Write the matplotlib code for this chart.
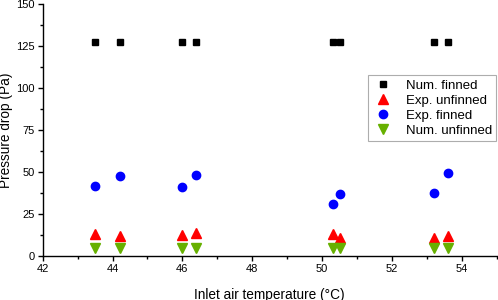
import matplotlib
matplotlib.use("Agg")
import matplotlib.pyplot as plt
from matplotlib.ticker import MultipleLocator

plt.rcParams['font.family'] = ['Liberation Sans', 'DejaVu Sans']

temps = [43.5, 44.2, 46.0, 46.4, 50.3, 50.5, 53.2, 53.6]
num_finned = [127.5, 127.5, 127.5, 127.5, 127.5, 127.5, 127.5, 127.5]
exp_unfinned = [13.0, 12.1, 12.3, 13.5, 13.0, 10.9, 10.9, 12.1]
exp_finned = [41.8, 47.8, 40.9, 48.0, 31.0, 37.1, 37.5, 49.6]
num_unfinned = [5.0, 5.0, 5.0, 5.0, 5.0, 5.0, 5.0, 5.0]

fig = plt.figure(figsize=(4.98, 3.0), dpi=100)
ax = fig.add_axes([0.0857, 0.1467, 0.912, 0.84])

ax.plot(temps, num_finned, 's', color='black', ms=5, label='Num. finned', linestyle='none')
ax.plot(temps, exp_unfinned, '^', color='#ff0000', ms=6.5, label='Exp. unfinned', linestyle='none')
ax.plot(temps, exp_finned, 'o', color='#0000ff', ms=6, label='Exp. finned', linestyle='none')
ax.plot(temps, num_unfinned, 'v', color='#66b000', ms=6.5, label='Num. unfinned', linestyle='none')

ax.set_xlim(42, 55)
ax.set_ylim(0, 150)
ax.xaxis.set_major_locator(MultipleLocator(2))
ax.xaxis.set_minor_locator(MultipleLocator(1))
ax.yaxis.set_major_locator(MultipleLocator(25))
ax.yaxis.set_minor_locator(MultipleLocator(12.5))
ax.tick_params(which='major', direction='out', length=3.5, width=1, labelsize=8, pad=2)
ax.tick_params(which='minor', direction='out', length=2, width=1)
ax.spines['top'].set_visible(False)
ax.spines['right'].set_visible(False)
ax.spines['left'].set_linewidth(1)
ax.spines['bottom'].set_linewidth(1)

ax.set_xlabel('Inlet air temperature (°C)', fontsize=9.8, labelpad=10)
fig.text(6.5 / 498, 0.5667, 'Pressure drop (Pa)', rotation=90, fontsize=9.8,
         ha='center', va='center')

leg = ax.legend(loc='upper right', bbox_to_anchor=(0.999, 0.718), fontsize=9.5,
                frameon=True, fancybox=False, edgecolor='#999999',
                handletextpad=0.9, borderpad=0.35, labelspacing=0.2,
                handlelength=1.6, borderaxespad=0)
leg.get_frame().set_linewidth(0.8)

fig.savefig('out.png', dpi=100)
